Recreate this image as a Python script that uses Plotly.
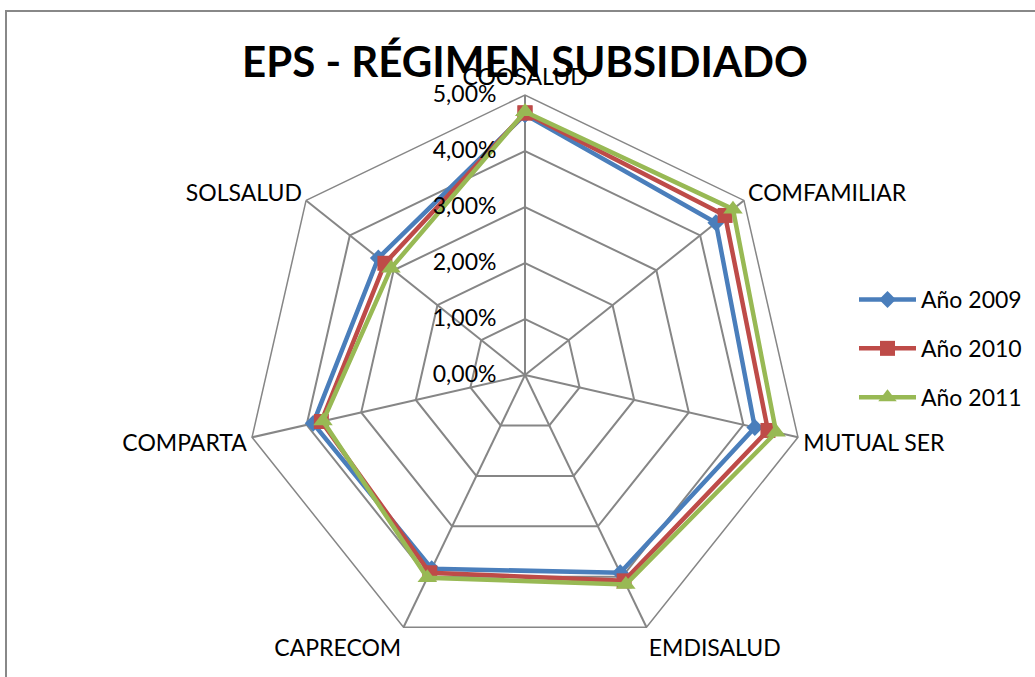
import plotly.graph_objects as go

categories = ["COOSALUD", "COMFAMILIAR", "MUTUAL SER", "EMDISALUD", "CAPRECOM", "COMPARTA", "SOLSALUD"]
anio_2009 = [4.65, 4.36, 4.21, 3.92, 3.84, 3.88, 3.35]
anio_2010 = [4.68, 4.57, 4.45, 4.08, 3.92, 3.73, 3.20]
anio_2011 = [4.70, 4.75, 4.60, 4.15, 4.02, 3.70, 3.06]
series_names = ["Año 2009", "Año 2010", "Año 2011"]
tick_vals = [0, 1, 2, 3, 4, 5]
tick_text = ["0,00%", "1,00%", "2,00%", "3,00%", "4,00%", "5,00%"]

colors = ["#4A7EBB", "#BE4B48", "#98B954"]
symbols = ["diamond", "square", "triangle-up"]
sizes = [13, 15, 17]

fig = go.Figure()
for name, vals, c, s, sz in zip(series_names, [anio_2009, anio_2010, anio_2011], colors, symbols, sizes):
    fig.add_trace(go.Scatterpolar(
        r=vals + vals[:1], theta=categories + categories[:1],
        mode="lines+markers", name=name, legendgroup=name,
        line=dict(color=c, width=4.5),
        marker=dict(symbol=s, size=sz, color=c),
    ))

W, H = 1035, 677
cx, cy, R = 525, 375, 280
fig.update_layout(
    width=W, height=H,
    margin=dict(l=0, r=0, t=0, b=0),
    paper_bgcolor="white",
    font=dict(family="Lato", size=23, color="black"),
    title=dict(text="<b>EPS - RÉGIMEN SUBSIDIADO</b>", x=525 / W, xanchor="center",
               y=1 - 62 / H, yanchor="middle",
               font=dict(family="Lato", size=42, color="black")),
    polar=dict(
        domain=dict(x=[(cx - R) / W, (cx + R) / W], y=[(H - cy - R) / H, (H - cy + R) / H]),
        bgcolor="white",
        gridshape="linear",
        radialaxis=dict(range=[0, 5], tickvals=tick_vals, ticktext=tick_text,
                        angle=90, tickangle=90, side="counterclockwise",
                        showline=False, gridcolor="#868686", gridwidth=1.5,
                        ticks="outside", ticklen=20, tickcolor="rgba(0,0,0,0)",
                        tickfont=dict(size=23)),
        angularaxis=dict(direction="clockwise", rotation=90, gridcolor="#868686", gridwidth=1.5,
                         linecolor="#868686", linewidth=1.5, ticks="",
                         tickfont=dict(size=23)),
    ),
    legend=dict(x=854 / W, y=1 - 278 / H, xanchor="left", yanchor="top",
                font=dict(size=23), itemwidth=57, tracegroupgap=16, bgcolor="rgba(0,0,0,0)"),
    shapes=[dict(type="rect", xref="paper", yref="paper", x0=6 / W, x1=1.02, y0=-0.02, y1=1 - 11 / H,
                 line=dict(color="#888888", width=2))],
)
fig.write_html("out.html", config={"displayModeBar": False},
               post_script="document.body.style.margin='0';")
